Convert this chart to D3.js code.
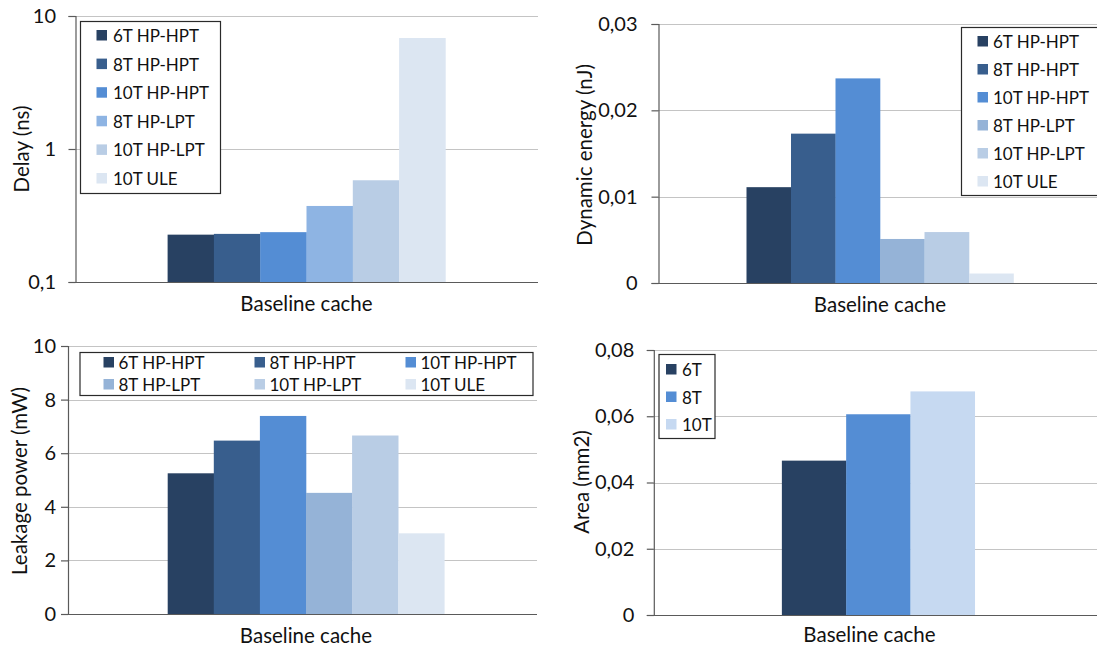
<!DOCTYPE html>
<html>
<head>
<meta charset="utf-8">
<script src="https://cdn.jsdelivr.net/npm/d3@7"></script>
<style>
  html, body { margin: 0; padding: 0; background: #fff; }
  svg { display: block; font-family: Lato, "Open Sans", sans-serif; }
</style>
</head>
<body>
<svg id="chart" width="1097" height="648"></svg>
<script>
// Cache comparison: delay, dynamic energy, leakage power and area per SRAM cell type
const categories = ["Baseline cache"];
const cellTypes = ["6T HP-HPT", "8T HP-HPT", "10T HP-HPT", "8T HP-LPT", "10T HP-LPT", "10T ULE"];
const delayNs = [0.227, 0.230, 0.237, 0.373, 0.582, 6.83];
const dynamicEnergyNj = [0.0111, 0.0173, 0.0237, 0.0051, 0.0059, 0.0011];
const leakagePowerMw = [5.25, 6.47, 7.39, 4.52, 6.66, 3.01];
const areaCellTypes = ["6T", "8T", "10T"];
const areaMm2 = [0.0466, 0.0606, 0.0675];

const delayTicks = [0.1, 1, 10];
const delayTickLabels = ["0,1", "1", "10"];
const energyTicks = [0, 0.01, 0.02, 0.03];
const energyTickLabels = ["0", "0,01", "0,02", "0,03"];
const leakageTicks = [0, 2, 4, 6, 8, 10];
const leakageTickLabels = ["0", "2", "4", "6", "8", "10"];
const areaTicks = [0, 0.02, 0.04, 0.06, 0.08];
const areaTickLabels = ["0", "0,02", "0,04", "0,06", "0,08"];

const blues6 = ["#284162", "#385e8d", "#548dd4", "#8eb4e3", "#b9cde5", "#dce6f2"];
const blues6b = ["#284162", "#385e8d", "#548dd4", "#95b3d7", "#b9cde5", "#dce6f2"];
const blues3 = ["#284162", "#548dd4", "#c6d9f1"];

const svg = d3.select("#chart");

function panel(cfg) {
  const g = svg.append("g");
  const y = cfg.log
    ? d3.scaleLog().domain(d3.extent(cfg.ticks)).range([cfg.bottom, cfg.top])
    : d3.scaleLinear().domain(d3.extent(cfg.ticks)).range([cfg.bottom, cfg.top]);

  // horizontal gridlines
  g.append("g").selectAll("line").data(cfg.ticks.slice(1)).join("line")
    .attr("x1", cfg.axisX).attr("x2", cfg.gridRight)
    .attr("y1", d => Math.round(y(d)) + 0.5).attr("y2", d => Math.round(y(d)) + 0.5)
    .attr("stroke", "#c4c4c4").attr("stroke-width", 1.2);

  // bars: one category band, series side by side with a gap of `gap` bar widths
  const x0 = d3.scaleBand().domain(categories).range([cfg.bandLeft, cfg.bandRight]);
  const n = cfg.series.length;
  const groupW = x0.bandwidth() * n / (n + cfg.gap);
  const x1 = d3.scaleBand().domain(cfg.series).range([0, groupW]);
  const off = (x0.bandwidth() - groupW) / 2;
  const bars = g.append("g");
  categories.forEach(cat => {
    bars.selectAll(null).data(cfg.values).join("rect")
      .attr("x", (d, i) => x0(cat) + off + x1(cfg.series[i]))
      .attr("width", x1.bandwidth() + 0.3)
      .attr("y", d => y(d))
      .attr("height", d => y(cfg.ticks[0]) - y(d))
      .attr("fill", (d, i) => cfg.colors[i]);
  });

  // baseline spanning plot width
  g.append("line")
    .attr("x1", cfg.axisX).attr("x2", cfg.gridRight)
    .attr("y1", Math.round(cfg.bottom) + 0.5).attr("y2", Math.round(cfg.bottom) + 0.5)
    .attr("stroke", "#5a5a5a").attr("stroke-width", 1.2);

  // vertical axis
  const axis = d3.axisLeft(y)
    .tickValues(cfg.ticks)
    .tickFormat((d, i) => cfg.tickLabels[i])
    .tickSize(7).tickPadding(cfg.tickPad);
  const ag = g.append("g").attr("transform", `translate(${cfg.axisX + 0.5},0)`).call(axis);
  ag.select(".domain").attr("stroke", "#5a5a5a").attr("stroke-width", 1.2);
  ag.selectAll(".tick line").attr("stroke", "#5a5a5a").attr("stroke-width", 1.2);
  ag.selectAll(".tick text").attr("font-size", 20).attr("fill", "#111")
    .attr("font-family", "Lato, sans-serif");

  // axis titles
  g.append("text")
    .attr("transform", `translate(${cfg.yTitleX},${cfg.yTitleY}) rotate(-90)`)
    .attr("text-anchor", "middle").attr("dominant-baseline", "central")
    .attr("font-size", 20.5).attr("fill", "#111").text(cfg.yTitle);
  g.append("text")
    .attr("x", cfg.xTitleX).attr("y", cfg.xTitleY)
    .attr("text-anchor", "middle").attr("dominant-baseline", "central")
    .attr("font-size", 20.5).attr("fill", "#111").text(categories[0]);

  // legend
  const L = cfg.legend;
  const lg = g.append("g");
  lg.append("rect")
    .attr("x", L.x + 0.5).attr("y", L.y + 0.5).attr("width", L.w).attr("height", L.h)
    .attr("fill", "#fff").attr("stroke", "#2a2a2a").attr("stroke-width", 1.2);
  const items = lg.selectAll("g.item").data(cfg.series).join("g").attr("class", "item")
    .attr("transform", (d, i) => {
      const c = i % L.cols, r = Math.floor(i / L.cols);
      return `translate(${L.sx + c * L.colStep},${L.sy + r * L.rowStep})`;
    });
  items.append("rect").attr("x", 0).attr("y", -5).attr("width", 10.5).attr("height", 10.5)
    .attr("fill", (d, i) => cfg.colors[i]);
  items.append("text").attr("x", L.tx).attr("y", 0.5).attr("dominant-baseline", "central")
    .attr("font-size", 17).attr("fill", "#111").text(d => d);
}

panel({
  series: cellTypes, values: delayNs, colors: blues6, log: true,
  ticks: delayTicks, tickLabels: delayTickLabels,
  axisX: 75, top: 16, bottom: 282, gridRight: 538, bandLeft: 75, bandRight: 538, gap: 4, tickPad: 12.5,
  yTitle: "Delay (ns)", yTitleX: 21, yTitleY: 149, xTitleX: 306.5, xTitleY: 303,
  legend: { x: 80, y: 21, w: 140, h: 172, cols: 1, sx: 96.5, sy: 35, colStep: 0, rowStep: 28.6, tx: 16.5 }
});

panel({
  series: cellTypes, values: dynamicEnergyNj, colors: blues6b, log: false,
  ticks: energyTicks, tickLabels: energyTickLabels,
  axisX: 658, top: 24, bottom: 283, gridRight: 1097, bandLeft: 657.5, bandRight: 1102.5, gap: 4, tickPad: 14,
  yTitle: "Dynamic energy (nJ)", yTitleX: 584, yTitleY: 155, xTitleX: 880, xTitleY: 304,
  legend: { x: 961, y: 27, w: 170, h: 168, cols: 1, sx: 977.5, sy: 41, colStep: 0, rowStep: 28, tx: 15.5 }
});

panel({
  series: cellTypes, values: leakagePowerMw, colors: blues6b, log: false,
  ticks: leakageTicks, tickLabels: leakageTickLabels,
  axisX: 67.5, top: 346, bottom: 614, gridRight: 537, bandLeft: 75.5, bandRight: 536.5, gap: 4, tickPad: 5,
  yTitle: "Leakage power (mW)", yTitleX: 19, yTitleY: 481, xTitleX: 306, xTitleY: 635,
  legend: { x: 79.5, y: 352, w: 453, h: 43, cols: 3, sx: 103.5, sy: 362, colStep: 151, rowStep: 22, tx: 15 }
});

panel({
  series: areaCellTypes, values: areaMm2, colors: blues3, log: false,
  ticks: areaTicks, tickLabels: areaTickLabels,
  axisX: 653.3, top: 350, bottom: 615, gridRight: 1097, bandLeft: 653.3, bandRight: 1103.3, gap: 4, tickPad: 12.5,
  yTitle: "Area (mm2)", yTitleX: 581, yTitleY: 482, xTitleX: 869.5, xTitleY: 634,
  legend: { x: 658.5, y: 354, w: 56, h: 84, cols: 1, sx: 666, sy: 369, colStep: 0, rowStep: 27.5, tx: 16 }
});
</script>
</body>
</html>
